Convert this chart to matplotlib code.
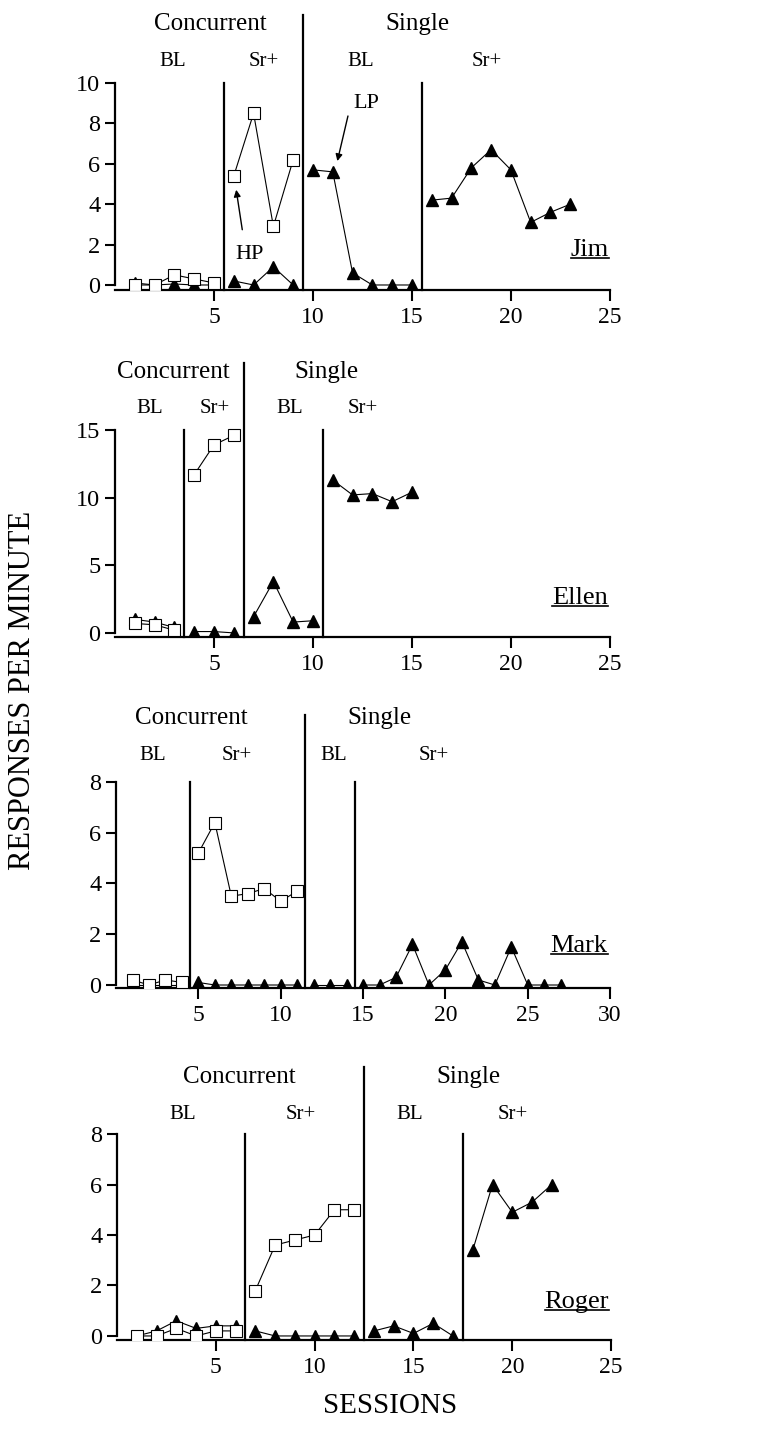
import numpy as np
import matplotlib
matplotlib.use('Agg')
import matplotlib.pyplot as plt
from matplotlib.lines import Line2D

plt.rcParams['font.family'] = ['Liberation Serif', 'DejaVu Serif']

# ---- data (responses per minute by session) ----
jim_hp = [0.0, 0.0, 0.5, 0.3, 0.1, 5.4, 8.5, 2.9, 6.2]
jim_lp = [0.1, 0.0, 0.05, 0.0, 0.0, 0.2, 0.0, 0.9, 0.0,
          5.7, 5.6, 0.6, 0.0, 0.0, 0.0,
          4.2, 4.3, 5.8, 6.7, 5.7, 3.1, 3.6, 4.0]
jim_phases = [5.5, 9.5, 15.5]

ellen_hp = [0.7, 0.6, 0.2, 11.7, 13.9, 14.6]
ellen_lp = [1.0, 0.8, 0.4, 0.1, 0.1, 0.0,
            1.2, 3.8, 0.8, 0.9,
            11.3, 10.2, 10.3, 9.7, 10.4]
ellen_phases = [3.5, 6.5, 10.5]

mark_hp = [0.2, 0.0, 0.2, 0.1, 5.2, 6.4, 3.5, 3.6, 3.8, 3.3, 3.7]
mark_lp = [0.0, 0.0, 0.0, 0.0, 0.1, 0.0, 0.0, 0.0, 0.0, 0.0, 0.0,
           0.0, 0.0, 0.0,
           0.0, 0.0, 0.3, 1.6, 0.0, 0.6, 1.7, 0.2, 0.0, 1.5, 0.0, 0.0, 0.0]
mark_phases = [4.5, 11.5, 14.5]

roger_hp = [0.0, 0.0, 0.3, 0.0, 0.2, 0.2, 1.8, 3.6, 3.8, 4.0, 5.0, 5.0]
roger_lp = [0.0, 0.2, 0.6, 0.3, 0.4, 0.4, 0.2, 0.0, 0.0, 0.0, 0.0, 0.0,
            0.2, 0.4, 0.1, 0.5, 0.0,
            3.4, 6.0, 4.9, 5.3, 6.0]
roger_phases = [6.5, 12.5, 17.5]

phase_names = ['Concurrent', 'Single']
cond_names = ['BL', 'Sr+', 'BL', 'Sr+']

name_texts = []


def segments(values, bounds):
    x = np.arange(1, len(values) + 1)
    y = np.array(values, dtype=float)
    edges = [0] + list(bounds) + [1e9]
    for lo, hi in zip(edges[:-1], edges[1:]):
        m = (x > lo) & (x < hi)
        if m.any():
            yield x[m], y[m]


def panel(rect, name, hp, lp, phases, xmax, ymax, ystep, ylim, major_top,
          top_y, sub_y, top_x, sub_x, name_pos):
    ax = fig.add_axes(rect)
    ax.set_xlim(0, xmax)
    ax.set_ylim(*ylim)
    for s in ['top', 'right']:
        ax.spines[s].set_visible(False)
    ax.spines['left'].set_bounds(0, ymax)
    ax.spines['left'].set_linewidth(1.6)
    ax.spines['bottom'].set_linewidth(1.6)
    ax.set_yticks(np.arange(0, ymax + 0.1, ystep))
    ax.set_xticks(np.arange(5, xmax + 1, 5))
    ax.tick_params(axis='y', direction='out', length=7.5, width=1.5, pad=3,
                   labelsize=17.5)
    ax.tick_params(axis='x', direction='out', length=8, width=1.5, pad=4,
                   labelsize=17)

    # phase change lines
    for i, p in enumerate(phases):
        top = major_top if i == 1 else ymax
        ax.plot([p, p], [ylim[0], top], color='black', lw=1.6,
                clip_on=False, zorder=1)

    for x, y in segments(lp, phases):
        ax.plot(x, y, color='black', lw=0.8, marker='^', markersize=8.5,
                markerfacecolor='black', markeredgecolor='black', zorder=3)
    for x, y in segments(hp, phases):
        ax.plot(x, y, color='black', lw=0.8, marker='s', markersize=9,
                markerfacecolor='white', markeredgecolor='black',
                markeredgewidth=0.8, zorder=4)

    for t, xx in zip(phase_names, top_x):
        ax.text(xx, top_y, t, ha='center', va='center', fontsize=18)
    for t, xx in zip(cond_names, sub_x):
        ax.text(xx, sub_y, t, ha='center', va='center', fontsize=15)
    nt = ax.text(name_pos[0], name_pos[1], name, ha='right', va='center',
                 fontsize=19)
    name_texts.append(nt)
    return ax


fig = plt.figure(figsize=(7.72, 14.33), dpi=100)

ax1 = panel([0.149, 0.7976, 0.641, 0.1989], 'Jim', jim_hp, jim_lp, jim_phases,
            25, 10, 2, (-0.25, 13.86), 13.37, 12.9, 11.04,
            [4.8, 15.3], [2.9, 7.5, 12.4, 18.8], (24.95, 1.75))
ax1.annotate('', xy=(11.2, 6.0), xytext=(11.8, 8.5),
             arrowprops=dict(arrowstyle='-|>', color='black', lw=1,
                             mutation_scale=10))
ax1.text(12.7, 9.0, 'LP', ha='center', va='center', fontsize=16)
ax1.annotate('', xy=(6.1, 4.85), xytext=(6.45, 2.6),
             arrowprops=dict(arrowstyle='-|>', color='black', lw=1,
                             mutation_scale=10))
ax1.text(6.8, 1.5, 'HP', ha='center', va='center', fontsize=16)

panel([0.149, 0.5555, 0.641, 0.2038], 'Ellen', ellen_hp, ellen_lp,
      ellen_phases, 25, 15, 5, (-0.3, 21.29), 19.96, 19.3, 16.6,
      [2.95, 10.7], [1.77, 5.05, 8.8, 12.5], (24.9, 2.6))

panel([0.1503, 0.3105, 0.640, 0.1975], 'Mark', mark_hp, mark_lp,
      mark_phases, 30, 8, 2, (-0.12, 11.03), 10.64, 10.52, 9.06,
      [4.6, 16.0], [2.25, 7.3, 13.2, 19.3], (29.85, 1.55))

panel([0.1516, 0.0649, 0.640, 0.2024], 'Roger', roger_hp, roger_lp,
      roger_phases, 25, 8, 2, (-0.16, 11.33), 10.65, 10.26, 8.79,
      [6.2, 17.8], [3.3, 9.3, 14.8, 20.0], (24.9, 1.35))

fig.text(23 / 772, 1 - 690 / 1433, 'RESPONSES PER MINUTE', rotation=90,
         ha='center', va='center', fontsize=22)
fig.text(390 / 772, 1 - 1406 / 1433, 'SESSIONS', ha='center', va='center',
         fontsize=21)

# underline the subject names
fig.canvas.draw()
r = fig.canvas.get_renderer()
inv = fig.transFigure.inverted()
for nt in name_texts:
    bb = nt.get_window_extent(r)
    (x0, y0), (x1, _) = inv.transform([(bb.x0, bb.y0 + 3), (bb.x1, bb.y0)])
    fig.add_artist(Line2D([x0, x1], [y0, y0], color='black', lw=1.2))

fig.savefig('out.png', dpi=100)
